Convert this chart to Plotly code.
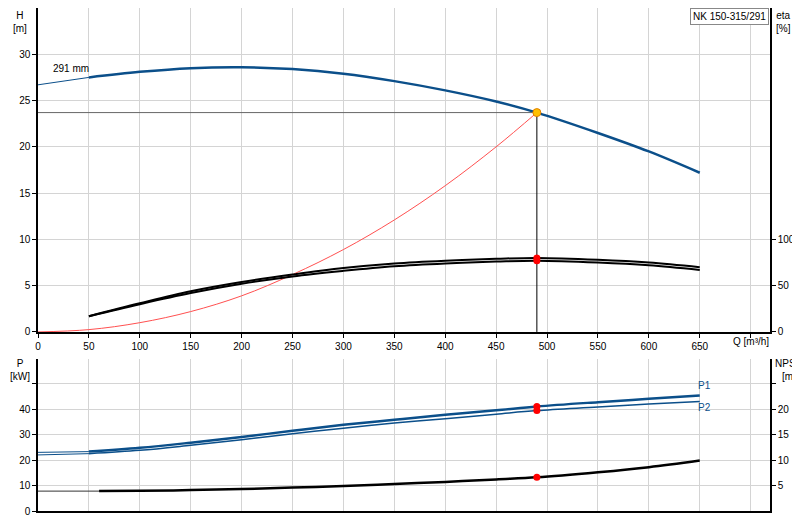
import plotly.graph_objects as go

Q = [0, 50, 100, 150, 200, 250, 300, 350, 400, 450, 490, 550, 600, 650]
H = [26.7, 27.5, 28.1, 28.5, 28.6, 28.4, 27.9, 27.1, 26.1, 24.9, 23.7, 21.5, 19.5, 17.2]
Qs = [0, 50, 100, 150, 200, 250, 300, 350, 400, 450, 490]
Hsys = [0, 0.25, 1.0, 2.2, 3.9, 6.2, 8.9, 12.1, 15.8, 20.0, 23.7]
Qe = [50, 100, 150, 200, 250, 300, 350, 400, 450, 490, 550, 600, 650]
eta1 = [17, 31, 44, 54, 62, 69, 74, 77, 79, 80, 78, 75, 70]
eta2 = [17, 30, 42, 52, 60, 66, 71, 74, 76, 77, 75, 72, 67]
P1 = [23, 23.3, 24.8, 26.8, 29, 31.5, 33.8, 35.8, 37.8, 39.5, 41, 42.7, 44, 45.3]
P2 = [22, 22.5, 23.8, 25.8, 28, 30.3, 32.5, 34.5, 36.2, 38, 39.4, 40.8, 42, 43]
Qn = [60, 100, 150, 200, 250, 300, 350, 400, 450, 490, 550, 600, 650]
NPSH = [3.9, 3.95, 4.1, 4.3, 4.6, 4.9, 5.3, 5.7, 6.2, 6.6, 7.6, 8.6, 9.9]
Qd, Hd = 490, 23.7

blue = "#0b4f8a"
fig = go.Figure()
fig.add_trace(go.Scatter(x=Q[:2], y=H[:2], mode="lines", line=dict(color=blue, width=1)))
fig.add_trace(go.Scatter(x=Q[1:], y=H[1:], mode="lines", line=dict(color=blue, width=2.5, shape="spline")))
fig.add_trace(go.Scatter(x=[0, Qd], y=[Hd, Hd], mode="lines", line=dict(color="#666", width=1)))
fig.add_trace(go.Scatter(x=[Qd, Qd], y=[Hd, 0], mode="lines", line=dict(color="black", width=1)))
fig.add_trace(go.Scatter(x=Qs, y=Hsys, mode="lines", line=dict(color="#ff5050", width=1, shape="spline")))
for e in (eta1, eta2):
    fig.add_trace(go.Scatter(x=Qe, y=e, yaxis="y2", mode="lines", line=dict(color="black", width=2, shape="spline")))
fig.add_trace(go.Scatter(x=[Qd, Qd], y=[80, 77], yaxis="y2", mode="markers", marker=dict(color="red", size=7)))
fig.add_trace(go.Scatter(x=[Qd], y=[Hd], mode="markers", marker=dict(color="#ffc000", size=8, line=dict(color="#e08000", width=1))))
# bottom
fig.add_trace(go.Scatter(x=Q[:2], y=P1[:2], xaxis="x2", yaxis="y3", mode="lines", line=dict(color=blue, width=1)))
fig.add_trace(go.Scatter(x=Q[:2], y=P2[:2], xaxis="x2", yaxis="y3", mode="lines", line=dict(color=blue, width=1)))
fig.add_trace(go.Scatter(x=Q[1:], y=P1[1:], xaxis="x2", yaxis="y3", mode="lines", line=dict(color=blue, width=2.5, shape="spline")))
fig.add_trace(go.Scatter(x=Q[1:], y=P2[1:], xaxis="x2", yaxis="y3", mode="lines", line=dict(color=blue, width=1.5, shape="spline")))
fig.add_trace(go.Scatter(x=[0, Qn[0]], y=[NPSH[0]] * 2, xaxis="x2", yaxis="y4", mode="lines", line=dict(color="#333", width=1)))
fig.add_trace(go.Scatter(x=Qn, y=NPSH, xaxis="x2", yaxis="y4", mode="lines", line=dict(color="black", width=2.5, shape="spline")))
fig.add_trace(go.Scatter(x=[Qd, Qd], y=[41, 39.4], xaxis="x2", yaxis="y3", mode="markers", marker=dict(color="red", size=7)))
fig.add_trace(go.Scatter(x=[Qd], y=[6.6], xaxis="x2", yaxis="y4", mode="markers", marker=dict(color="red", size=7)))

g = "#d4d4d4"
ax = dict(showline=True, linecolor="black", linewidth=1.5, gridcolor=g, zeroline=False, ticks="outside",
          ticklen=4, tickcolor="black", automargin=False, tickfont=dict(size=10))
fig.update_layout(
    width=800, height=520, showlegend=False, plot_bgcolor="white", paper_bgcolor="white",
    margin=dict(l=30, r=38, t=0, b=17, autoexpand=False),
    font=dict(family="Liberation Sans, Arial", size=11, color="black"),
    xaxis=dict(ax, range=[0, 719], domain=[0, 1], anchor="y",
               tickvals=list(range(0, 701, 50)), ticktext=[str(v) for v in range(0, 651, 50)] + [""]),
    yaxis=dict(ax, range=[0, 35], tickvals=[0, 5, 10, 15, 20, 25, 30], domain=[0.356, 1], anchor="x"),
    yaxis2=dict(ax, range=[0, 350], tickvals=[0, 50, 100], overlaying="y", side="right", anchor="x", showgrid=False),
    xaxis2=dict(ax, range=[0, 719], tickvals=list(range(0, 701, 50)), showticklabels=False, ticks="", domain=[0, 1], anchor="y3"),
    yaxis3=dict(ax, range=[0, 59.6], tickvals=[0, 10, 20, 30, 40, 50], ticktext=["0", "10", "20", "30", "40", ""], domain=[0, 0.302], anchor="x2"),
    yaxis4=dict(ax, range=[0, 29.8], tickvals=[5, 10, 15, 20, 25], ticktext=["5", "10", "15", "20", ""], overlaying="y3", side="right", anchor="x2", showgrid=False),
)
ann = [
    dict(x=12, y=0, text="H<br>[m]"),
    dict(x=775, y=0, text="eta<br>[%]"),
    dict(x=12, y=348, text="P<br>[kW]"),
    dict(x=781, y=348, text="NPSH<br>[m]"),
    dict(x=743, y=326, text="Q [m³/h]"),
    dict(x=63, y=53, text="291 mm"),
    dict(x=696, y=370, text="P1", color=blue),
    dict(x=696, y=392, text="P2", color=blue),
]
for a in ann:
    c = a.pop("color", "black")
    fig.add_annotation(xref="paper", yref="paper", x=(a["x"] - 30) / 732, y=1 - a["y"] / 503,
                       text=a["text"], showarrow=False, yanchor="top", xanchor="center",
                       font=dict(size=10, color=c))
fig.add_annotation(xref="paper", yref="paper", x=(762 - 30) / 732 - 0.001, y=1, text="NK 150-315/291",
                   showarrow=False, xanchor="right", yanchor="top", bordercolor="#888", borderwidth=1,
                   borderpad=2, bgcolor="white", font=dict(size=10))
fig.write_html("out.html")
